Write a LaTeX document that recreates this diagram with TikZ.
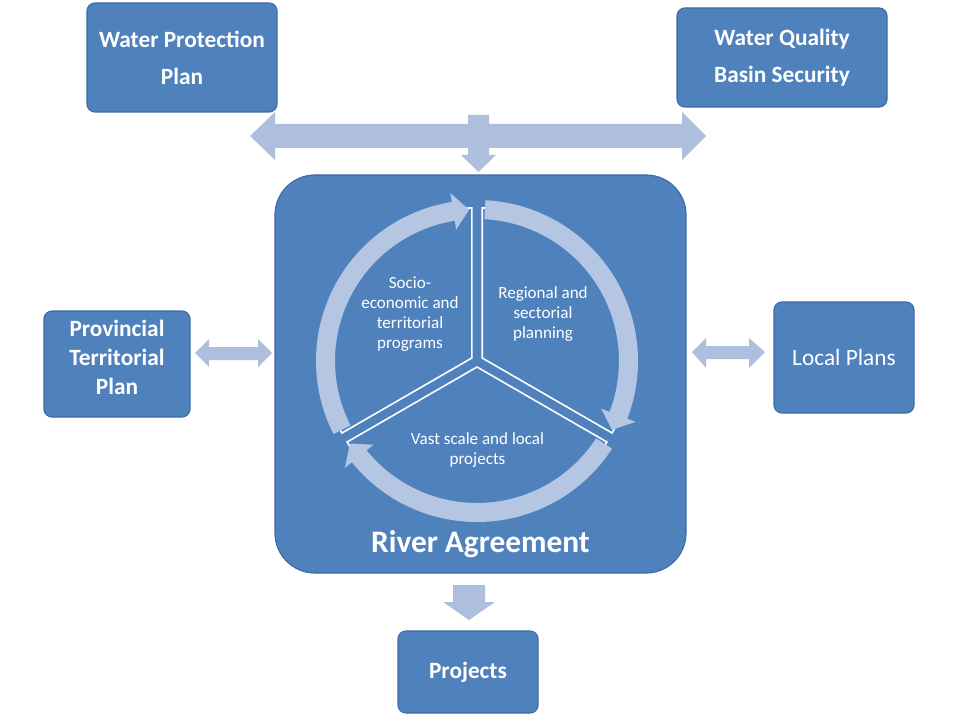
\documentclass[tikz,border=0pt]{standalone}
\usepackage{fontspec}
\setmainfont{Carlito}
\definecolor{boxblue}{HTML}{4F81BD}
\definecolor{boxline}{HTML}{3E6CA5}
\definecolor{arrowc}{HTML}{AEBFDD}
\definecolor{ringc}{HTML}{B5C6E3}
\begin{document}
\begin{tikzpicture}[x=0.75pt,y=-0.75pt,
  box/.style={draw=boxline, fill=boxblue, line width=0.9pt, rounded corners=6pt, inner sep=0pt},
  btxt/.style={text=white, align=center, font=\bfseries\fontsize{17.5}{27.75}\selectfont},
  itxt/.style={text=white, align=center, font=\fontsize{12.8}{15}\selectfont},
  blockarrow/.style={fill=arrowc, draw=none},
  wedge/.style={fill=boxblue, draw=white, line width=1.2pt},
  ringarrow/.style={fill=ringc, draw=none}]
\useasboundingbox (0,0) rectangle (960,720);
\fill[white] (0,0) rectangle (960,720);

% top T-shaped block arrow
\path[blockarrow] (250,136) -- (275,112) -- (275,124) -- (468,124) -- (468,115) -- (489,115)
  -- (489,124) -- (682,124) -- (682,112) -- (706,136) -- (682,160) -- (682,148) -- (489,148)
  -- (489,155) -- (496,155) -- (478.5,172) -- (461,155) -- (468,155) -- (468,148) -- (275,148)
  -- (275,160) -- cycle;

% outer boxes
\node[box, minimum width=142.5pt, minimum height=81.75pt, btxt] (wpp) at (182,57.5) {Water Protection\\Plan};
\node[box, minimum width=157.5pt, minimum height=74.25pt, btxt] (wqb) at (782,57.5) {Water Quality\\Basin Security};
\node[box, minimum width=109.5pt, minimum height=79.5pt] (ptp) at (117,364) {};
\node[btxt, font=\bfseries\fontsize{17.5}{21.75}\selectfont] (ptpt) at (117,357) {Provincial\\Territorial\\Plan};
\node[box, minimum width=105pt, minimum height=83.25pt, text=white, font=\fontsize{17.5}{21}\selectfont] (lp) at (844,357.5) {Local Plans};
\node[box, minimum width=105pt, minimum height=61.5pt, btxt] (proj) at (468,672) {Projects};

% big box
\node[box, rounded corners=30pt, minimum width=308.25pt, minimum height=298.5pt] (ra) at (480.5,374) {};
\node[text=white, font=\bfseries\fontsize{23.5}{28}\selectfont] (rat) at (480.5,544) {River Agreement};

% side double arrows
\path[blockarrow] (195,353) -- (209,339) -- (209,347) -- (258,347) -- (258,339) -- (272,353)
  -- (258,367) -- (258,360) -- (209,360) -- (209,367) -- cycle;
\path[blockarrow] (692,352) -- (706,338) -- (706,346) -- (749,346) -- (749,338) -- (765,352)
  -- (749,368) -- (749,359) -- (706,359) -- (706,368) -- cycle;
% bottom down arrow
\path[blockarrow] (453,585) -- (485,585) -- (485,602) -- (495,602) -- (469,620) -- (443,602)
  -- (453,602) -- cycle;

% cycle
\begin{scope}[shift={(477,361)}, yscale=-1]
  \path[wedge, shift={(150:6)}] (0,0) -- (210:150) arc[start angle=210, end angle=90, radius=150] -- cycle;
  \path[wedge, shift={(30:6)}] (0,0) -- (90:150) arc[start angle=90, end angle=-30, radius=150] -- cycle;
  \path[wedge, shift={(270:6)}] (0,0) -- (-30:150) arc[start angle=-30, end angle=-150, radius=150] -- cycle;
  \foreach \s/\e in {207/93, 87/-27, -33/-147}{
    \pgfmathsetmacro{\h}{\e+6}
    \path[ringarrow] (\s:161) arc[start angle=\s, end angle=\h, radius=161]
      -- (\h:170) -- (\e:151.5) -- (\h:133) -- (\h:142)
      arc[start angle=\h, end angle=\s, radius=142] -- cycle;
  }
\end{scope}

\node[itxt] (t1) at (410,314) {Socio-\\economic and\\territorial\\programs};
\node[itxt] (t2) at (543,314) {Regional and\\sectorial\\planning};
\node[itxt] (t3) at (477.5,450) {Vast scale and local\\projects};
\end{tikzpicture}
\end{document}
